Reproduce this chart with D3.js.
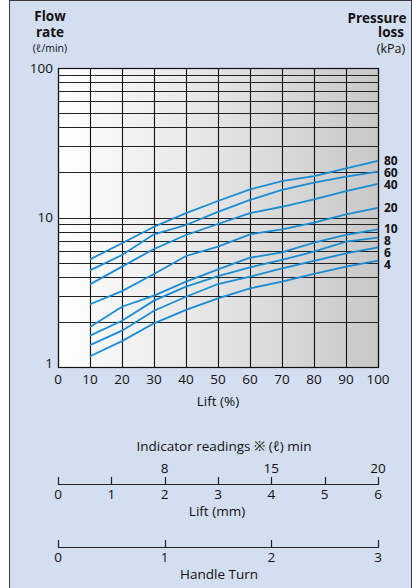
<!DOCTYPE html>
<html><head><meta charset="utf-8">
<script src="https://cdn.jsdelivr.net/npm/d3@7"></script>
<style>
html,body{margin:0;padding:0;background:#fff;}
svg{display:block;font-family:"Open Sans","Noto Sans",sans-serif;}
</style></head>
<body>
<svg id="c" width="412" height="588"></svg>
<script>
// ---- data ----
const liftPct = [10, 20, 30, 40, 50, 60, 70, 80, 90, 100];
const pressureLabels = ["80", "60", "40", "20", "10", "8", "6", "4"];
const flow80 = [5.25, 6.72, 8.68, 10.7, 12.9, 15.4, 17.5, 18.9, 21.3, 23.9];
const flow60 = [4.43, 5.61, 7.72, 8.91, 10.9, 13.1, 15.3, 17.1, 18.8, 20.3];
const flow40 = [3.57, 4.69, 6.16, 7.64, 9.05, 10.7, 11.8, 13.2, 15.0, 16.8];
const flow20 = [2.63, 3.22, 4.19, 5.53, 6.38, 7.72, 8.34, 9.23, 10.5, 11.6];
const flow10 = [1.85, 2.53, 3.00, 3.72, 4.50, 5.38, 5.85, 6.78, 7.64, 8.34];
const flow8  = [1.62, 2.04, 2.78, 3.45, 4.06, 4.64, 5.20, 5.91, 6.89, 7.33];
const flow6  = [1.40, 1.75, 2.38, 2.95, 3.59, 4.02, 4.57, 5.12, 5.76, 6.32];
const flow4  = [1.18, 1.49, 1.96, 2.41, 2.88, 3.36, 3.72, 4.19, 4.69, 5.14];
const xTicks = [0, 10, 20, 30, 40, 50, 60, 70, 80, 90, 100];
const yTickLabels = [1, 10, 100];
const liftMmTicks = [0, 1, 2, 3, 4, 5, 6];
const indicatorMm = [2, 4, 6];
const indicatorReadings = ["8", "15", "20"];
const handleTurnTicks = [0, 1, 2, 3];

const series = [flow80, flow60, flow40, flow20, flow10, flow8, flow6, flow4];

// ---- layout ----
const svg = d3.select("#c");
const L = 58, R = 378, T = 68, B = 367;
const blue = "#1a8cd4";
const font = 13.5;

svg.append("rect").attr("x", 9.5).attr("y", 0.5).attr("width", 402).attr("height", 600)
  .attr("fill", "#d3def0").attr("stroke", "#3a3a3a").attr("stroke-width", 1);

const defs = svg.append("defs");
const g = defs.append("linearGradient").attr("id", "bgGrad").attr("x1", "0").attr("x2", "1").attr("y1", "0").attr("y2", "0");
g.append("stop").attr("offset", "0").attr("stop-color", "#ffffff");
g.append("stop").attr("offset", "1").attr("stop-color", "#c8c8c8");

const x = d3.scaleLinear().domain([0, 100]).range([L, R]);
const y = d3.scaleLog().domain([1, 100]).range([B, T]);

svg.append("rect").attr("x", L).attr("y", T).attr("width", R - L).attr("height", B - T).attr("fill", "url(#bgGrad)");

// horizontal grid
const hVals = [];
for (let d = 1; d < 100; d *= 10) for (let k = 1; k <= 9; k++) hVals.push(k * d);
hVals.push(100);
svg.append("g").selectAll("line").data(hVals).join("line")
  .attr("x1", L).attr("x2", R)
  .attr("y1", d => Math.round(y(d)) + 0.5).attr("y2", d => Math.round(y(d)) + 0.5)
  .attr("stroke", "#222").attr("stroke-width", 1.1);
// vertical grid
svg.append("g").selectAll("line").data(xTicks).join("line")
  .attr("y1", T).attr("y2", B)
  .attr("x1", d => Math.round(x(d)) + 0.5).attr("x2", d => Math.round(x(d)) + 0.5)
  .attr("stroke", "#111").attr("stroke-width", 1.1);
svg.append("rect").attr("x", L + 0.5).attr("y", T + 0.5).attr("width", R - L).attr("height", B - T)
  .attr("fill", "none").attr("stroke", "#111").attr("stroke-width", 1.2);

// curves
const line = d3.line().x((d, i) => x(liftPct[i])).y(d => y(d));
svg.append("g").selectAll("path").data(series).join("path")
  .attr("d", d => line(d)).attr("fill", "none").attr("stroke", blue).attr("stroke-width", 1.8);

// pressure labels with simple spacing
let prev = -Infinity;
const labelY = series.map(s => { const v = Math.max(y(s[s.length - 1]), prev + 12); prev = v; return v; });
svg.append("g").selectAll("text").data(pressureLabels).join("text")
  .attr("x", R + 6).attr("y", (d, i) => labelY[i]).attr("dy", "0.35em")
  .attr("font-size", 12).attr("font-weight", "bold").attr("fill", "#111").text(d => d);

// x axis labels
svg.append("g").selectAll("text").data(xTicks).join("text")
  .attr("x", d => x(d)).attr("y", B + 17).attr("text-anchor", "middle")
  .attr("font-size", font).attr("fill", "#111").text(d => d);

// y axis labels
svg.append("g").selectAll("text").data(yTickLabels).join("text")
  .attr("x", L - 5).attr("y", d => y(d)).attr("dy", d => d === 1 ? "0.1em" : "0.35em").attr("text-anchor", "end")
  .attr("font-size", font).attr("fill", "#111").text(d => d);

// titles
const t = (tx, ty, s, size, bold, anchor) => svg.append("text").attr("x", tx).attr("y", ty)
  .attr("text-anchor", anchor || "middle").attr("font-size", size).attr("font-weight", bold ? "bold" : "normal")
  .attr("fill", "#111").text(s);
t(50, 21, "Flow", 13.5, true);
t(50, 37, "rate", 13.5, true);
t(50, 52, "(ℓ/min)", 10.5, false);
t(377, 23, "Pressure", 13.5, true);
t(391, 37, "loss", 13.5, true);
t(391, 53, "(kPa)", 12.5, false);

t(218, 406, "Lift (%)", font, false);

// indicator readings
t(224, 451, "Indicator readings ※ (ℓ) min", font, false);

// lift mm axis
const xm = d3.scaleLinear().domain([0, 6]).range([L, R]);
const ly = 484;
svg.append("line").attr("x1", L).attr("x2", R).attr("y1", ly + 0.5).attr("y2", ly + 0.5).attr("stroke", "#222").attr("stroke-width", 1.2);
svg.append("g").selectAll("line").data(liftMmTicks).join("line")
  .attr("x1", d => Math.round(xm(d)) + 0.5).attr("x2", d => Math.round(xm(d)) + 0.5)
  .attr("y1", ly - 7).attr("y2", ly + 1).attr("stroke", "#222").attr("stroke-width", 1.2);
svg.append("g").selectAll("text").data(liftMmTicks).join("text")
  .attr("x", d => xm(d)).attr("y", ly + 15).attr("text-anchor", "middle")
  .attr("font-size", font).attr("fill", "#111").text(d => d);
svg.append("g").selectAll("text").data(indicatorMm).join("text")
  .attr("x", d => xm(d)).attr("y", ly - 11).attr("text-anchor", "middle")
  .attr("font-size", font).attr("fill", "#111").text((d, i) => indicatorReadings[i]);
t(217, 516, "Lift (mm)", font, false);

// handle turn axis
const xh = d3.scaleLinear().domain([0, 3]).range([L, R]);
const hy = 547;
svg.append("line").attr("x1", L).attr("x2", R).attr("y1", hy + 0.5).attr("y2", hy + 0.5).attr("stroke", "#222").attr("stroke-width", 1.2);
svg.append("g").selectAll("line").data(handleTurnTicks).join("line")
  .attr("x1", d => Math.round(xh(d)) + 0.5).attr("x2", d => Math.round(xh(d)) + 0.5)
  .attr("y1", hy - 7).attr("y2", hy + 1).attr("stroke", "#222").attr("stroke-width", 1.2);
svg.append("g").selectAll("text").data(handleTurnTicks).join("text")
  .attr("x", d => xh(d)).attr("y", hy + 15).attr("text-anchor", "middle")
  .attr("font-size", font).attr("fill", "#111").text(d => d);
t(219, 579, "Handle Turn", font, false);
</script>
</body></html>
